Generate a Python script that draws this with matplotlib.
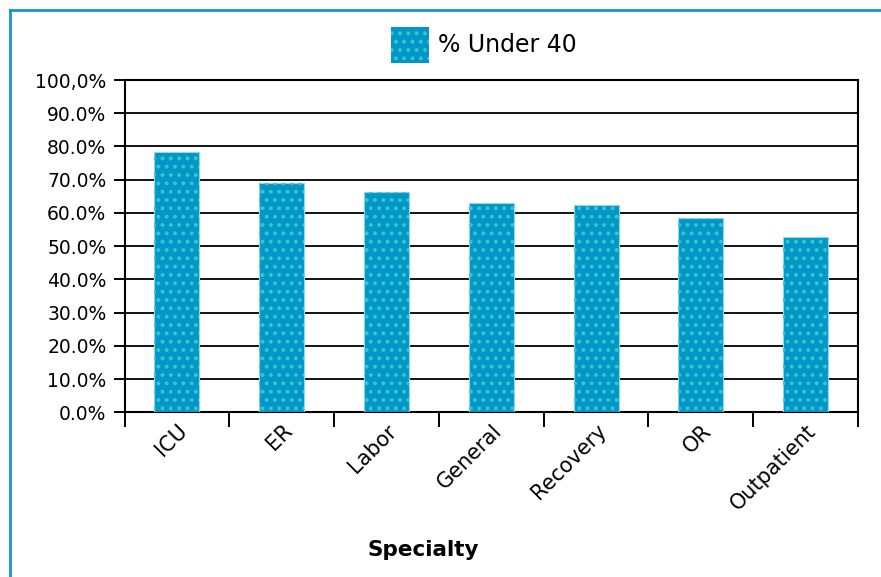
import matplotlib
matplotlib.use("Agg")
import matplotlib.pyplot as plt
from matplotlib.lines import Line2D
from matplotlib.patches import Patch
import numpy as np

categories = ["ICU", "ER", "Labor", "General", "Recovery", "OR", "Outpatient"]
pct_under_40 = [78.4, 68.9, 66.3, 63.1, 62.4, 58.6, 52.8]
y_ticks = [0, 10, 20, 30, 40, 50, 60, 70, 80, 90, 100]
y_tick_labels = ["0.0%", "10.0%", "20.0%", "30.0%", "40.0%", "50.0%",
                 "60.0%", "70.0%", "80.0%", "90.0%", "100,0%"]
series_name = "% Under 40"
x_label = "Specialty"

W, H = 881, 577
fig = plt.figure(figsize=(W / 100, H / 100), dpi=100)
plt.rcParams['font.family'] = ['DejaVu Sans']
plt.rcParams['hatch.linewidth'] = 1.6

ax = fig.add_axes([124.5 / W, 1 - 412.3 / H, (858 - 124.5) / W, (412.3 - 80) / H])

face = '#0397c9'
dots = '#35c8c8'
x = np.arange(len(categories))
ax.bar(x, pct_under_40, width=0.43, color=face, edgecolor='#8fd8ec', linewidth=0.8, zorder=3)
ax.bar(x, pct_under_40, width=0.43, facecolor='none', edgecolor=dots, hatch='..', linewidth=0, zorder=4)

ax.set_xlim(-0.5, len(categories) - 0.5)
ax.set_ylim(0, 100)
ax.set_yticks(y_ticks)
ax.set_yticklabels(y_tick_labels, fontsize=13.5)
ax.yaxis.grid(True, color='black', linewidth=1.3, zorder=1)
ax.set_axisbelow(True)

ax.set_xticks(np.arange(len(categories) + 1) - 0.5)
ax.set_xticklabels([])
ax.set_xticks(x, minor=True)
ax.set_xticklabels(categories, minor=True, rotation=45, ha='right', va='top',
                   rotation_mode='anchor', fontsize=15)
ax.tick_params(axis='x', which='major', length=11, width=1.4, direction='out', color='black')
ax.tick_params(axis='x', which='minor', length=0, pad=6)
ax.tick_params(axis='y', length=8, width=1.4, direction='out', pad=5, color='black')

for s in ax.spines.values():
    s.set_linewidth(1.5)
    s.set_color('black')

fig.text(423 / W, 1 - 550 / H, x_label, ha='center', va='center', fontsize=15.5, fontweight='bold')

handle = Patch(facecolor=face, edgecolor=dots, hatch='..', linewidth=0)
leg = fig.legend([handle], [series_name], loc='center left',
                 bbox_to_anchor=(391 / W, 1 - 45 / H), frameon=False,
                 fontsize=17, handlelength=1.6, handleheight=2.0,
                 handletextpad=0.4, borderpad=0, borderaxespad=0)

# outer blue frame (left and top edges visible)
fig.add_artist(Line2D([9.5 / W, 9.5 / W], [0, 1 - 9.5 / H], transform=fig.transFigure,
                      color='#1b8fd0', linewidth=2))
fig.add_artist(Line2D([9.5 / W, 1], [1 - 9.5 / H, 1 - 9.5 / H], transform=fig.transFigure,
                      color='#1b8fd0', linewidth=2))

fig.savefig("out.png", dpi=100, facecolor='white')
